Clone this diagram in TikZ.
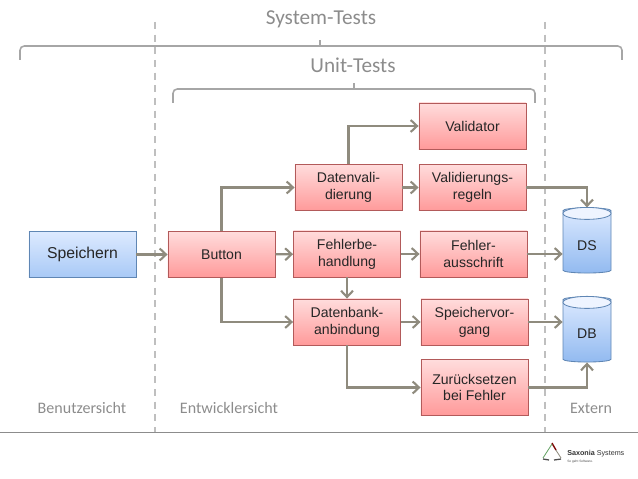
\documentclass[tikz,border=0pt]{standalone}
\usepackage{fontspec}
\setmainfont{Liberation Sans}
\newfontfamily\labelfont{Carlito}
\usetikzlibrary{arrows.meta,shapes.geometric}
\definecolor{flowgray}{HTML}{8F8B7E}
\definecolor{bracketgray}{HTML}{A6A6A6}
\definecolor{dashgray}{HTML}{BFBFBF}
\definecolor{captiongray}{HTML}{8C8C8C}
\definecolor{redtop}{HTML}{FFDCDC}
\definecolor{redbottom}{HTML}{FF9A9A}
\definecolor{rededge}{HTML}{B25A5A}
\definecolor{bluetop}{HTML}{DDEAFF}
\definecolor{bluebottom}{HTML}{A8C9F6}
\definecolor{blueedge}{HTML}{5F86B4}
\definecolor{storetop}{HTML}{EEF4FF}
\definecolor{storebottom}{HTML}{92BAF0}
\tikzset{
  basebox/.style={draw, line width=0.6pt, minimum width=2.675cm, minimum height=1.15cm,
    inner sep=0pt, align=center, text=black!85, font=\fontsize{10}{12}\selectfont},
  redbox/.style={basebox, draw=rededge, top color=redtop, bottom color=redbottom},
  bluebox/.style={basebox, draw=blueedge, top color=bluetop, bottom color=bluebottom},
  store/.style={cylinder, shape border rotate=90, aspect=0.28, draw=blueedge, line width=0.6pt,
    minimum width=1.2cm, minimum height=1.63cm, inner sep=0pt, top color=bluetop, bottom color=storebottom,
    text=black!85, font=\fontsize{10}{12}\selectfont},
  flow/.style={-{Straight Barb[length=4.5pt,width=8.5pt]}, draw=flowgray, line width=1.5pt},
  caption/.style={text=captiongray, font=\labelfont\fontsize{11.4}{13}\selectfont},
  testlabel/.style={text=captiongray, font=\labelfont\fontsize{15.1}{18}\selectfont},
  testbracket/.style={draw=bracketgray, line width=1.1pt, rounded corners=3pt}
}
\begin{document}
\begin{tikzpicture}[x=0.025cm, y=-0.025cm]
  \useasboundingbox (0,0) rectangle (638,479);

  % view borders
  \draw[dashgray, line width=1.1pt, dash pattern=on 5pt off 4pt] (155,22) -- (155,432);
  \draw[dashgray, line width=1.1pt, dash pattern=on 5pt off 4pt] (545,22) -- (545,432);
  \draw[captiongray, line width=0.6pt] (0,432) -- (638,432);

  % test brackets
  \draw[testbracket] (20,60) -- (20,46) -- (622,46) -- (622,60);
  \draw[testbracket, sharp corners] (320,46) -- (320,40);
  \draw[testbracket] (173,103) -- (173,89) -- (535,89) -- (535,103);
  \draw[testbracket, sharp corners] (354,89) -- (354,83);
  \node[testlabel] (systemtests) at (321,19) {System-Tests};
  \node[testlabel] (unittests) at (353,65) {Unit-Tests};

  % boxes
  \node[bluebox, font=\fontsize{11.2}{13}\selectfont] (speichern) at (82.5,254.5) {Speichern};
  \foreach \name/\x/\y/\lab in {
    button/221.5/254.5/{Button},
    datenvali/348.5/187.5/{Datenvali-\\dierung},
    validator/472.5/126/{Validator},
    regeln/472.5/187.5/{Validierungs-\\regeln},
    fehlerbe/347/254/{Fehlerbe-\\handlung},
    ausschrift/473.5/254/{Fehler-\\ausschrift},
    anbindung/347/322/{Datenbank-\\anbindung},
    vorgang/474.5/322/{Speichervor-\\gang}}{
    \node[redbox] (\name) at (\x,\y) {\lab};
  }
  \node[redbox, minimum height=1.38cm] (zurueck) at (474.5,387.5) {Zurücksetzen\\bei Fehler};

  % stores
  \node[store] (ds) at (587,242) {\smash{\raisebox{-6pt}{DS}}};
  \node[store] (db) at (587,331) {\smash{\raisebox{-5pt}{DB}}};
  \foreach \s in {ds,db}{
    \fill[storetop, draw=blueedge, line width=0.6pt] ([yshift=-0.15cm]\s.top) ellipse [x radius=0.6cm, y radius=0.15cm];
  }

  % connectors
  \draw[flow] (speichern) -- (button);
  \draw[flow] (button.north) |- (datenvali.west);
  \draw[flow] (button) -- (fehlerbe);
  \draw[flow] (button.south) |- (anbindung.west);
  \draw[flow] (datenvali.north) |- (validator.west);
  \draw[flow] (datenvali) -- (regeln);
  \draw[flow] (fehlerbe) -- (ausschrift);
  \draw[flow] (fehlerbe) -- (anbindung);
  \draw[flow] (anbindung) -- (vorgang);
  \draw[flow] (anbindung.south) |- (zurueck.west);
  \draw[flow] (regeln.east) -| (ds.top);
  \draw[flow] (ausschrift.east) -- (ausschrift.east -| ds.west);
  \draw[flow] (vorgang.east) -- (vorgang.east -| db.west);
  \draw[flow] (zurueck.east) -| (db.bottom);

  % captions
  \node[caption] (benutzer) at (82,408) {Benutzersicht};
  \node[caption] (entwickler) at (229,408) {Entwicklersicht};
  \node[caption] (extern) at (591,408) {Extern};

  % logo
  \draw[flowgray, line width=0.6pt] (552,444) -- (561,458);
  \draw[red!50!black, line width=0.9pt] (552,443) -- (556,450);
  \draw[green!40!black!60, line width=0.6pt] (543,458) -- (552,444);
  \draw[black!70, line width=0.9pt] (543,459) -- (549,460) (554,460) -- (561,459);
  \node[anchor=west, inner sep=0pt, font=\fontsize{5.1}{6}\selectfont, text=black!80] (saxonia) at (567,454) {\textbf{Saxonia} Systems};
  \node[anchor=west, inner sep=0pt, font=\fontsize{2.3}{3}\selectfont, text=black!70] (claim) at (567,461.5) {So geht Software.};
\end{tikzpicture}
\end{document}
